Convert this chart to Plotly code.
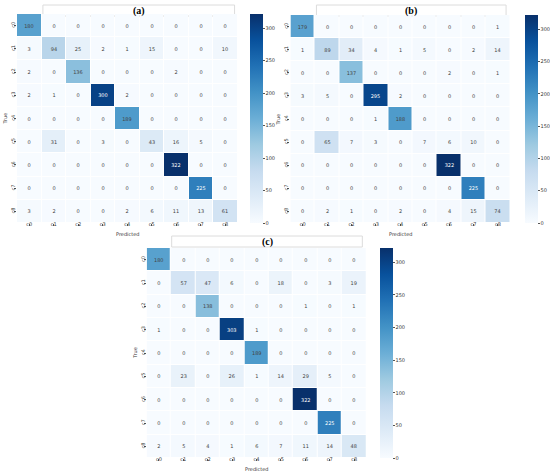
import plotly.graph_objects as go
import plotly.colors as pc

W, H = 550, 474

classes = ["c0", "c1", "c2", "c3", "c4", "c5", "c6", "c7", "c8"]
titles = ["(a)", "(b)", "(c)"]

cm_a = [
    [180, 0, 0, 0, 0, 0, 0, 0, 0],
    [3, 94, 25, 2, 1, 15, 0, 0, 10],
    [2, 0, 136, 0, 0, 0, 2, 0, 0],
    [2, 1, 0, 300, 2, 0, 0, 0, 0],
    [0, 0, 0, 0, 189, 0, 0, 0, 0],
    [0, 31, 0, 3, 0, 43, 16, 5, 0],
    [0, 0, 0, 0, 0, 0, 322, 0, 0],
    [0, 0, 0, 0, 0, 0, 0, 225, 0],
    [3, 2, 0, 0, 2, 6, 11, 13, 61],
]
cm_b = [
    [179, 0, 0, 0, 0, 0, 0, 0, 1],
    [1, 89, 34, 4, 1, 5, 0, 2, 14],
    [0, 0, 137, 0, 0, 0, 2, 0, 1],
    [3, 5, 0, 295, 2, 0, 0, 0, 0],
    [0, 0, 0, 1, 188, 0, 0, 0, 0],
    [0, 65, 7, 3, 0, 7, 6, 10, 0],
    [0, 0, 0, 0, 0, 0, 322, 0, 0],
    [0, 0, 0, 0, 0, 0, 0, 225, 0],
    [0, 2, 1, 0, 2, 0, 4, 15, 74],
]
cm_c = [
    [180, 0, 0, 0, 0, 0, 0, 0, 0],
    [0, 57, 47, 6, 0, 18, 0, 3, 19],
    [0, 0, 138, 0, 0, 0, 1, 0, 1],
    [1, 0, 0, 303, 1, 0, 0, 0, 0],
    [0, 0, 0, 0, 189, 0, 0, 0, 0],
    [0, 23, 0, 26, 1, 14, 29, 5, 0],
    [0, 0, 0, 0, 0, 0, 322, 0, 0],
    [0, 0, 0, 0, 0, 0, 0, 225, 0],
    [2, 5, 4, 1, 6, 7, 11, 14, 48],
]
matrices = [cm_a, cm_b, cm_c]
cbar_ticks = [0, 50, 100, 150, 200, 250, 300]

# pixel layout of each panel: heatmap box, colorbar x, title box
panels = [
    dict(x0=17, x1=238, y0=14, y1=223, cbx=250, tb=(43, 235, 5, 16)),
    dict(x0=291, x1=511, y0=15, y1=223, cbx=525, tb=(317, 507, 5, 16)),
    dict(x0=147, x1=367, y0=248, y1=458, cbx=380, tb=(172, 363, 236, 247)),
]

def fx(px):
    return px / W

def fy(py):
    return 1 - py / H

fig = go.Figure()
font_family = "DejaVu Sans"
layout_axes = {}
shapes = []
annotations = []

for i, (cm, p, t) in enumerate(zip(matrices, panels, titles)):
    sfx = "" if i == 0 else str(i + 1)
    fig.add_trace(go.Heatmap(
        z=cm, x=classes, y=classes,
        xaxis="x" + sfx, yaxis="y" + sfx,
        colorscale=pc.sequential.Blues, zmin=0, zmax=322,
        xgap=1, ygap=1,
        texttemplate="%{z}", textfont=dict(size=5, family=font_family),
        hoverinfo="skip",
        colorbar=dict(
            x=fx(p["cbx"]), xanchor="left", xpad=0,
            y=fy(p["y1"]), yanchor="bottom", ypad=0,
            len=(p["y1"] - p["y0"]) / H, lenmode="fraction",
            thickness=13, outlinewidth=0,
            tickvals=cbar_ticks, ticks="outside", ticklen=2,
            tickcolor="#555", tickfont=dict(size=5, family=font_family, color="#333"),
        ),
    ))
    layout_axes["xaxis" + sfx] = dict(
        domain=[fx(p["x0"]), fx(p["x1"])], anchor="y" + sfx,
        showgrid=False, zeroline=False, showline=False,
        ticks="outside", ticklen=2, tickcolor="#555", tickangle=0,
        ticklabelstandoff=-6,
        tickfont=dict(size=5, family=font_family, color="#333"),
        automargin=False,
    )
    layout_axes["yaxis" + sfx] = dict(
        domain=[fy(p["y1"]), fy(p["y0"])], anchor="x" + sfx,
        autorange="reversed",
        showgrid=False, zeroline=False, showline=False,
        ticks="outside", ticklen=2, tickcolor="#555", tickangle=-90,
        ticklabelstandoff=-3,
        tickfont=dict(size=5, family=font_family, color="#333"),
        automargin=False,
    )
    # title box
    bx0, bx1, by0, by1 = p["tb"]
    shapes.append(dict(
        type="rect", xref="paper", yref="paper",
        x0=fx(bx0), x1=fx(bx1), y0=fy(by1), y1=fy(by0),
        line=dict(color="#dcdcdc", width=1), fillcolor="white", layer="below",
    ))
    annotations.append(dict(
        text="<b>" + t + "</b>", xref="paper", yref="paper",
        x=fx((bx0 + bx1) / 2), y=fy((by0 + by1) / 2),
        xanchor="center", yanchor="middle", showarrow=False,
        font=dict(family="Liberation Serif", size=10, color="black"),
    ))
    # axis titles
    annotations.append(dict(
        text="Predicted", xref="paper", yref="paper",
        x=fx((p["x0"] + p["x1"]) / 2), y=fy(p["y1"] + 11),
        xanchor="center", yanchor="middle", showarrow=False,
        font=dict(family=font_family, size=5, color="#333"),
    ))
    annotations.append(dict(
        text="True", xref="paper", yref="paper",
        x=fx(p["x0"] - 12), y=fy((p["y0"] + p["y1"]) / 2),
        xanchor="center", yanchor="middle", showarrow=False, textangle=-90,
        font=dict(family=font_family, size=5, color="#333"),
    ))

fig.update_layout(
    width=W, height=H,
    margin=dict(l=0, r=0, t=0, b=0),
    paper_bgcolor="white", plot_bgcolor="white",
    showlegend=False,
    shapes=shapes, annotations=annotations,
    **layout_axes,
)

fig.write_html(
    "out.html",
    config={"displayModeBar": False},
    post_script="document.body.style.margin='0';document.body.style.overflow='hidden';",
)
